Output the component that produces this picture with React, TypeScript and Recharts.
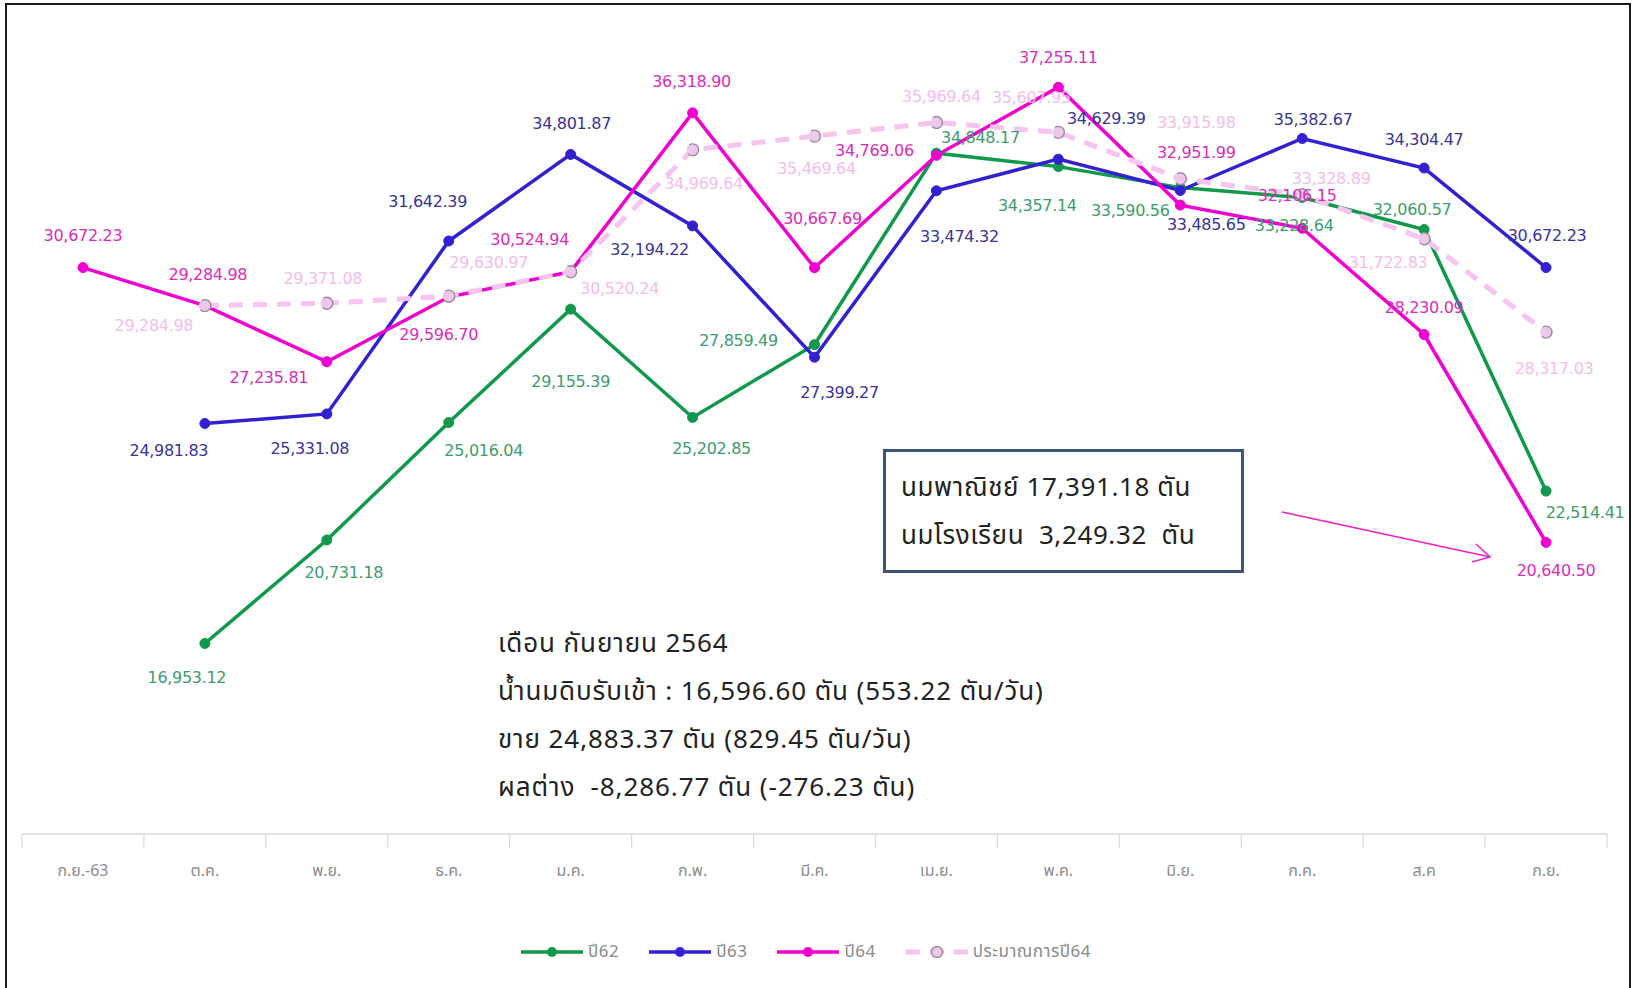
import React from 'react';
import { ComposedChart, Line, XAxis, YAxis, Legend, LabelList } from 'recharts';

// Months from ก.ย.-63 through ก.ย. (fiscal year 2564)
const months = ['ก.ย.-63', 'ต.ค.', 'พ.ย.', 'ธ.ค.', 'ม.ค.', 'ก.พ.', 'มี.ค.', 'เม.ย.', 'พ.ค.', 'มิ.ย.', 'ก.ค.', 'ส.ค', 'ก.ย.'];

// Raw milk received (tonnes) per month
const y62 = [null, 16953.12, 20731.18, 25016.04, 29155.39, 25202.85, 27859.49, 34848.17, 34357.14, 33590.56, 33228.64, 32060.57, 22514.41];
const y63 = [null, 24981.83, 25331.08, 31642.39, 34801.87, 32194.22, 27399.27, 33474.32, 34629.39, 33485.65, 35382.67, 34304.47, 30672.23];
const y64 = [30672.23, 29284.98, 27235.81, 29596.7, 30524.94, 36318.9, 30667.69, 34769.06, 37255.11, 32951.99, 32106.15, 28230.09, 20640.5];
const est64 = [null, 29284.98, 29371.08, 29630.97, 30520.24, 34969.64, 35469.64, 35969.64, 35607.95, 33915.98, 33328.89, 31722.83, 28317.03];

// Label placement relative to each point [dx, dy]
const nudge62 = [[0, 0], [-18, 34], [17, 33], [35, 28], [0, 72], [19, 31], [-76, -4], [44, -16], [-21, 39], [-50, 23], [-8, 28], [-12, -20], [39, 21]];
const nudge63 = [[0, 0], [-36, 27], [-17, 35], [-21, -39], [1, -31], [-43, 24], [25, 35], [23, 46], [48, -41], [26, 34], [11, -19], [0, -29], [1, -32]];
const nudge64 = [[0, -32], [3, -31], [-58, 16], [-10, 37], [-41, -32], [-1, -31], [8, -49], [-62, -5], [0, -30], [16, -53], [-5, -33], [0, -27], [10, 28]];
const nudgeEst = [[0, 0], [-51, 20], [-4, -25], [40, -34], [49, 17], [11, 34], [2, 32], [5, -26], [-27, -35], [16, -56], [29, -16], [-36, 24], [8, 36]];

const data = months.map((m, i) => ({ month: m, y62: y62[i], y63: y63[i], y64: y64[i], est64: est64[i] }));

const W = 1634;
const H = 988;
const M = { top: 12, right: 27, left: 22, bottom: 18 };
// half of one month slot; points sit in the middle of each slot
const HALF = (W - M.left - M.right) / months.length / 2;

const THAI = '"Noto Sans Thai", "Noto Sans Thai UI", Tahoma, Garuda, Loma, "DejaVu Sans", sans-serif';
const NUM = '"DejaVu Sans", Tahoma, sans-serif';

const GREEN = '#10994a';
const BLUE = '#3320d0';
const MAGENTA = '#f000d0';
const EST = '#f6c4ee';

const fmt = (v: number) => v.toLocaleString('en-US', { minimumFractionDigits: 2, maximumFractionDigits: 2 });

const makeLabel = (color: string, nudges: number[][]) => (props: any) => {
  const { x, y, value, index } = props;
  if (value == null || x == null || y == null) return null;
  const [dx, dy] = nudges[index] || [0, -20];
  return (
    <text
      x={x + dx}
      y={y + dy}
      textAnchor="middle"
      dominantBaseline="central"
      fill={color}
      fontSize={16}
      fontFamily={NUM}
      style={{ letterSpacing: '-0.3px' }}
    >
      {fmt(value)}
    </text>
  );
};

const MonthTick = (props: any) => {
  const { x, y, payload, index } = props;
  return (
    <g>
      <line x1={x - HALF} x2={x - HALF} y1={y} y2={y + 14} stroke="#d9d9d9" strokeWidth={1.2} />
      {index === months.length - 1 && (
        <line x1={x + HALF} x2={x + HALF} y1={y} y2={y + 14} stroke="#d9d9d9" strokeWidth={1.2} />
      )}
      <text x={x} y={y + 37} textAnchor="middle" dominantBaseline="central" fill="#8c8c8c" fontSize={16} fontFamily={THAI}>
        {payload.value}
      </text>
    </g>
  );
};

const legendItems = [
  { name: 'ปี62', color: GREEN, est: false },
  { name: 'ปี63', color: BLUE, est: false },
  { name: 'ปี64', color: MAGENTA, est: false },
  { name: 'ประมาณการปี64', color: EST, est: true },
];

const LegendContent = () => (
  <div style={{ height: 36, display: 'flex', alignItems: 'center', paddingLeft: 521 }}>
    {legendItems.map((it) => (
      <div key={it.name} style={{ display: 'flex', alignItems: 'center', marginRight: 30 }}>
        <svg width={62} height={20}>
          <line x1={0} x2={62} y1={10} y2={10} stroke={it.color} strokeWidth={it.est ? 5 : 3.5} strokeDasharray={it.est ? '14 10' : undefined} />
          {it.est ? (
            <circle cx={31} cy={10} r={5.5} fill="#ecc9ea" stroke="#9c8a9c" strokeWidth={1.4} />
          ) : (
            <circle cx={31} cy={10} r={5} fill={it.color} />
          )}
        </svg>
        <span style={{ marginLeft: 5, fontFamily: THAI, fontSize: 17, color: '#8a8a8a', letterSpacing: '0.5px' }}>{it.name}</span>
      </div>
    ))}
  </div>
);

const noteText: React.CSSProperties = { fontFamily: THAI, fontSize: 26, color: '#222', lineHeight: '48px', whiteSpace: 'nowrap', letterSpacing: '0.9px' };

export default function App() {
  return (
    <div style={{ position: 'absolute', left: 0, top: 0, width: W, height: H, background: '#fff', overflow: 'hidden' }}>
      <ComposedChart width={W} height={H} data={data} margin={M}>
        <XAxis
          dataKey="month"
          height={100}
          tickSize={0}
          tickMargin={0}
          tickLine={false}
          padding={{ left: HALF, right: HALF }}
          axisLine={{ stroke: '#d9d9d9', strokeWidth: 1.5 }}
          tick={<MonthTick />}
          interval={0}
        />
        <YAxis hide domain={[10000, 40000]} />
        <Legend verticalAlign="bottom" content={<LegendContent />} wrapperStyle={{ left: 0, width: W, height: 36 }} />
        <Line
          dataKey="y62"
          name="ปี62"
          stroke={GREEN}
          strokeWidth={3.5}
          dot={{ r: 5, fill: GREEN, stroke: GREEN, strokeWidth: 1 }}
          activeDot={false}
          isAnimationActive={false}
        >
          <LabelList dataKey="y62" content={makeLabel('#3d9c6d', nudge62)} />
        </Line>
        <Line
          dataKey="y63"
          name="ปี63"
          stroke={BLUE}
          strokeWidth={3.5}
          dot={{ r: 5, fill: BLUE, stroke: BLUE, strokeWidth: 1 }}
          activeDot={false}
          isAnimationActive={false}
        >
          <LabelList dataKey="y63" content={makeLabel('#3a3398', nudge63)} />
        </Line>
        <Line
          dataKey="y64"
          name="ปี64"
          stroke={MAGENTA}
          strokeWidth={3.5}
          dot={{ r: 5, fill: MAGENTA, stroke: MAGENTA, strokeWidth: 1 }}
          activeDot={false}
          isAnimationActive={false}
        >
          <LabelList dataKey="y64" content={makeLabel('#d92cbc', nudge64)} />
        </Line>
        <Line
          dataKey="est64"
          name="ประมาณการปี64"
          stroke={EST}
          strokeWidth={5}
          strokeDasharray="14 10"
          dot={{ r: 6, fill: '#ecc9ea', stroke: '#9c8a9c', strokeWidth: 1.4 }}
          activeDot={false}
          isAnimationActive={false}
        >
          <LabelList dataKey="est64" content={makeLabel('#f3bdea', nudgeEst)} />
        </Line>
      </ComposedChart>

      {/* Monthly summary for September 2564 */}
      <div style={{ ...noteText, position: 'absolute', left: 498, top: 620 }}>
        <div>เดือน กันยายน 2564</div>
        <div>น้ำนมดิบรับเข้า : 16,596.60 ตัน (553.22 ตัน/วัน)</div>
        <div>ขาย 24,883.37 ตัน (829.45 ตัน/วัน)</div>
        <div>ผลต่าง&nbsp;&nbsp;-8,286.77 ตัน (-276.23 ตัน)</div>
      </div>

      {/* Sales breakdown box */}
      <div style={{ ...noteText, letterSpacing: '0.6px', position: 'absolute', left: 883, top: 449, width: 355, height: 118, border: '3px solid #3e5474', boxSizing: 'content-box', background: '#fff' }}>
        <div style={{ paddingLeft: 15, paddingTop: 12 }}>
          <div>นมพาณิชย์ 17,391.18 ตัน</div>
          <div>นมโรงเรียน&nbsp;&nbsp;3,249.32&nbsp;&nbsp;ตัน</div>
        </div>
      </div>

      {/* Pointer to September value */}
      <svg style={{ position: 'absolute', left: 0, top: 0 }} width={W} height={H}>
        <line x1={1282} y1={512} x2={1490} y2={557} stroke="#f020c8" strokeWidth={1.5} />
        <polyline points="1476,544 1490,557 1472,562" fill="none" stroke="#f020c8" strokeWidth={1.5} />
      </svg>

      {/* Outer frame */}
      <div style={{ position: 'absolute', left: 5, top: 3, width: 1622, height: 1000, border: '2px solid #1a1a1a' }} />
    </div>
  );
}
